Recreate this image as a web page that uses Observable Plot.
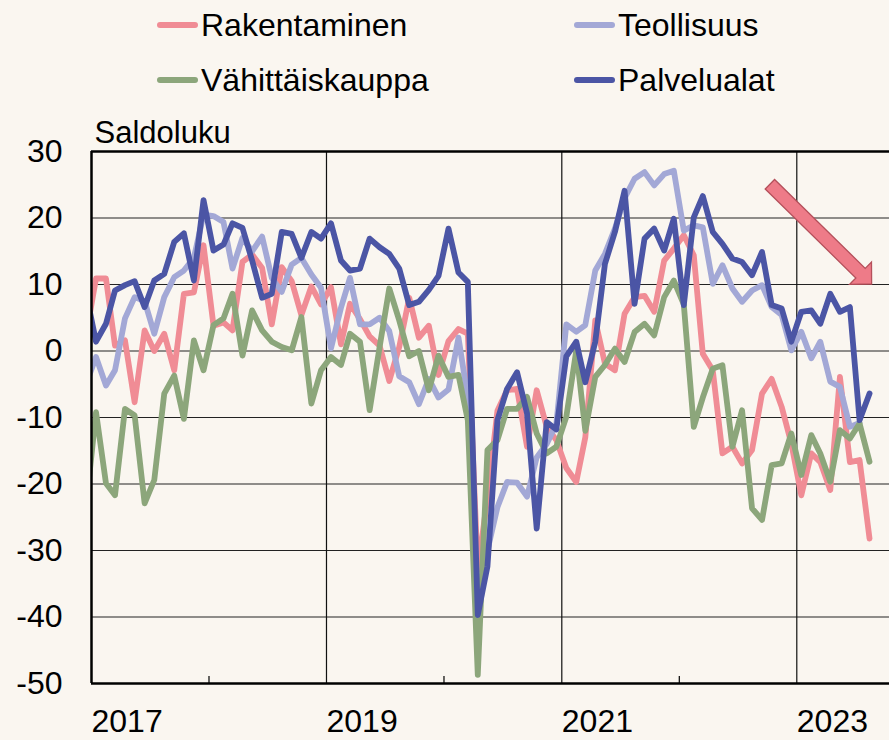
<!DOCTYPE html>
<html><head><meta charset="utf-8">
<script src="https://cdn.jsdelivr.net/npm/d3@7"></script>
<script src="https://cdn.jsdelivr.net/npm/@observablehq/plot@0.6"></script>
<style>
html,body{margin:0;padding:0;background:#faf6f0;}
#wrap{position:relative;width:889px;height:740px;background:#faf6f0;font-family:"Liberation Sans",Arial,sans-serif;overflow:hidden;}
#legend{position:absolute;left:0;top:0;width:889px;height:110px;}
.item{position:absolute;height:40px;display:flex;align-items:center;font-size:32px;color:#000;white-space:nowrap;}
.sw{width:41px;height:6px;border-radius:3px;margin-right:3px;}
#chart{position:absolute;left:0;top:110px;}
</style></head><body>
<div id="wrap"><div id="legend"></div><div id="chart"></div></div>
<script>
// Monthly series, first value = Dec 2016, last = Aug 2023
const firstMonth = [2016, 11];
const seriesNames = ["Rakentaminen", "Teollisuus", "Vähittäiskauppa", "Palvelualat"];
const seriesColors = ["#f08c95", "#a3a8d6", "#8ca67b", "#4b55a5"];

const rakentaminen = [2.3,
  10.9, 10.9, 0.8, 1.6, -7.7, 3.1, 0, 2.6, -2.9, 8.6,
  8.8, 15.9, 3.8, 4.3, 3.1, 13.4, 14.5, 12.5, 4, 12.6,
  10.5, 5.4, 9.7, 7, 9.6, 1, 7.1, 4.8, 2.2, 0.8,
  -4.5, 0.6, 8, 2, 3.8, -3.6, 1.5, 3.3, 2.6, -33,
  -22, -9, -5.9, -5.7, -14.4, -5.9, -11.4, -13.4, -17.6, -19.7,
  -13, 4.6, -1.9, -2.9, 5.6, 8.1, 8.3, 5.9, 13.6, 15.4,
  17.4, 14.4, -0.4, -2.9, -15.4, -14.4, -16.9, -14.9, -6.4, -4.2,
  -8.4, -13.9, -21.7, -15.4, -16.7, -20.9, -3.9, -16.7, -16.4, -28.2];

const teollisuus = [-5,
  -0.9, -5.2, -2.9, 4.9, 8.1, 7.5, 2.6, 8.1, 11.1, 12.1,
  14, 20.5, 20.3, 19.4, 12.4, 17, 15, 17.2, 11, 8.9,
  13, 14, 11.5, 9.5, 0.4, 6.5, 11, 4, 4, 5,
  3, -3.8, -4.7, -8, -4.2, -7, -5.8, 2, -7, -37,
  -30, -23.5, -19.7, -19.8, -21.9, -16, -14, -11, 4, 2.9,
  3.9, 12.1, 14.6, 18.4, 23, 25.9, 26.9, 24.9, 26.6, 27.1,
  18.1, 18.9, 18.6, 10.1, 12.9, 9.4, 7.4, 9.1, 9.9, 6.6,
  5.4, 0.1, 2.9, -1.1, 1.4, -4.6, -5.4, -11.4, -10.8];

const vahittaiskauppa = [-23.4,
  -9.2, -19.9, -21.7, -8.7, -9.7, -22.9, -19.4, -6.4, -3.7, -10.2,
  1.6, -2.9, 3.9, 4.9, 8.6, -0.7, 6.1, 3.1, 1.4, 0.6,
  0.1, 5.1, -7.9, -2.9, -0.9, -2.1, 2.6, 1.4, -8.9, 0.6,
  9.4, 4.6, -0.8, 0, -5.9, -0.7, -3.9, -3.6, -10.4, -48.7,
  -14.9, -13.4, -8.7, -8.7, -6.9, -12.4, -15.4, -14.4, -9.9, 0.1,
  -12, -3.9, -2.1, 0.35, -1.65, 2.85, 4.1, 2.35, 8.1, 10.6,
  7, -11.4, -7, -2.65, -2.15, -14.4, -8.9, -23.65, -25.4, -17.15,
  -16.9, -12.4, -18.65, -12.65, -15.4, -19.65, -11.9, -13.15, -10.9, -16.65];

const palvelualat = [8.7,
  1.4, 4.1, 9.1, 9.9, 10.5, 6.6, 10.6, 11.6, 16.4, 17.7,
  10.6, 22.7, 15.1, 16, 19.2, 18.5, 13.6, 8, 8.6, 17.9,
  17.6, 14, 17.9, 16.9, 19.2, 13.6, 12.1, 12.4, 16.9, 15.6,
  14.6, 12.4, 6.9, 7.4, 9.2, 11.3, 18.4, 11.8, 10.4, -39.7,
  -32.4, -10.4, -5.7, -3.2, -9.4, -26.7, -10.7, -11.8, -0.8, 1.4,
  -4.7, 1.4, 13.1, 17.9, 24.1, 7.1, 16.9, 18.4, 15.1, 19.9,
  6.9, 20.1, 23.3, 17.9, 16.1, 13.9, 13.4, 11.4, 14.9, 6.9,
  6.4, 1.4, 5.9, 6.1, 4.1, 8.6, 5.9, 6.6, -10.4, -6.4];

const yTicks = [-50, -40, -30, -20, -10, 0, 10, 20, 30];
const yearLabels = [2017, 2019, 2021, 2023];
const minorTickYears = [2018, 2020, 2022];
const xDomain = [new Date(Date.UTC(2017, 0, 1)), new Date(Date.UTC(2023, 9, 16))];
const yDomain = [-50, 30];
const arrowFrom = {date: new Date(Date.UTC(2022, 9, 11)), value: 25};
const arrowTo = {date: new Date(Date.UTC(2023, 7, 23)), value: 10};

const allSeries = [rakentaminen, teollisuus, vahittaiskauppa, palvelualat];
const monthDate = k => new Date(Date.UTC(firstMonth[0], firstMonth[1] + k, 15));
const tables = allSeries.map((vals, s) => vals.map((v, k) => ({date: monthDate(k), value: v, series: seriesNames[s]})));
const yearDate = y => new Date(Date.UTC(y, 0, 1));

// Legend
const legend = document.getElementById("legend");
const legendPos = [[157, 25], [574, 25], [157, 80], [574, 80]];
seriesNames.forEach((name, i) => {
  const it = document.createElement("div");
  it.className = "item";
  it.style.left = legendPos[i][0] + "px";
  it.style.top = (legendPos[i][1] - 20) + "px";
  const sw = document.createElement("div");
  sw.className = "sw";
  sw.style.background = seriesColors[i];
  const tx = document.createElement("span");
  tx.textContent = name;
  it.appendChild(sw); it.appendChild(tx);
  legend.appendChild(it);
});

const font = "Liberation Sans, Arial, sans-serif";
const chart = Plot.plot({
  width: 889, height: 630,
  marginTop: 41, marginBottom: 57, marginLeft: 91, marginRight: 0,
  style: {background: "transparent", fontFamily: font, color: "#000", overflow: "visible"},
  x: {type: "utc", domain: xDomain, axis: null},
  y: {domain: yDomain, axis: null},
  marks: [
    Plot.ruleY(yTicks.filter(d => d > yDomain[0] && d < yDomain[1]), {stroke: "#222", strokeWidth: 1.2}),
    Plot.ruleX(yearLabels.filter(y => y > 2017).map(yearDate), {stroke: "#111", strokeWidth: 1.2}),
    ...tables.map((t, s) => Plot.line(t, {x: "date", y: "value", stroke: seriesColors[s], strokeWidth: 5.8, strokeLinejoin: "round", strokeLinecap: "round", clip: true})),
    Plot.ruleY([yDomain[1]], {stroke: "#000", strokeWidth: 2.5}),
    Plot.ruleY([yDomain[0]], {stroke: "#000", strokeWidth: 2.5}),
    Plot.ruleX([xDomain[0]], {stroke: "#000", strokeWidth: 2.5}),
    Plot.ruleX(minorTickYears.map(yearDate), {insetTop: 525, stroke: "#000", strokeWidth: 1.2}),
    Plot.text(yTicks, {y: d => d, text: d => String(d), frameAnchor: "left", textAnchor: "end", lineAnchor: "middle", dx: -29, fontSize: 32, fill: "#000"}),
    Plot.text(yearLabels, {x: d => yearDate(d), text: d => String(d), frameAnchor: "bottom", textAnchor: "start", lineAnchor: "middle", dy: 38, fontSize: 32, fill: "#000"}),
    Plot.text(["Saldoluku"], {frameAnchor: "top-left", textAnchor: "start", lineAnchor: "middle", dx: 3, dy: -18, fontSize: 31, fill: "#000"})
  ]
});
document.getElementById("chart").appendChild(chart);

// Block arrow annotation positioned through the plot's scales
const sx = chart.scale("x"), sy = chart.scale("y");
const T = [sx.apply(arrowFrom.date), sy.apply(arrowFrom.value)];
const P = [sx.apply(arrowTo.date), sy.apply(arrowTo.value)];
const L = Math.hypot(P[0] - T[0], P[1] - T[1]);
const u = [(P[0] - T[0]) / L, (P[1] - T[1]) / L];
const n = [-u[1], u[0]];
const w = 6.7, W = 15.6, H = 15.5;
const B = [P[0] - u[0] * H, P[1] - u[1] * H];
const pt = (o, k) => [o[0] + n[0] * k, o[1] + n[1] * k];
const poly = [pt(T, w), pt(B, w), pt(B, W), P, pt(B, -W), pt(B, -w), pt(T, -w)];
d3.select(chart).append("polygon")
  .attr("points", poly.map(p => p.join(",")).join(" "))
  .attr("fill", "#ee7b88").attr("stroke", "#b5505b").attr("stroke-width", 1.3);
</script>
</body></html>
